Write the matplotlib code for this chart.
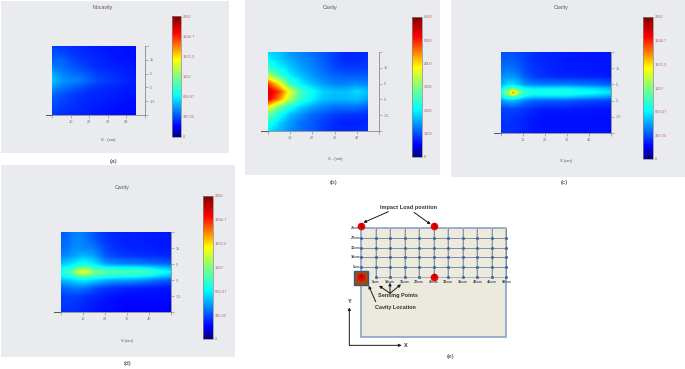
import numpy as np
import matplotlib
matplotlib.use("Agg")
import matplotlib.pyplot as plt
from matplotlib.patches import Rectangle
from matplotlib.colors import LinearSegmentedColormap

W, H = 685, 369
# ---- data: rows run from y=+25 to y=-25
x_coarse = [0, 5, 10, 15, 20, 25, 30, 35, 40, 45]
y_coarse = [25, 20, 15, 10, 5, 0, -5, -10, -15, -20, -25]
x_fine = [0, 3, 5.5, 8, 11, 15, 20, 25, 30, 35, 40, 45, 50]
y_fine = [25, 20, 15, 10, 5, 2.5, 0, -2.5, -5, -10, -15, -20, -25]

values_a = [
    [300, 280, 270, 260, 240, 230, 220, 220, 210, 200],
    [330, 320, 290, 270, 250, 240, 230, 220, 210, 210],
    [370, 380, 330, 290, 270, 250, 240, 220, 220, 210],
    [420, 400, 360, 320, 290, 260, 250, 240, 230, 220],
    [520, 440, 400, 380, 340, 300, 280, 260, 240, 230],
    [580, 480, 450, 430, 370, 320, 300, 280, 250, 240],
    [480, 420, 380, 340, 300, 270, 260, 250, 230, 230],
    [380, 340, 310, 280, 260, 250, 240, 230, 220, 220],
    [340, 320, 290, 260, 250, 240, 230, 220, 210, 210],
    [320, 290, 270, 260, 240, 230, 220, 210, 200, 200],
    [290, 270, 260, 250, 230, 220, 210, 200, 200, 190],
]
values_b = [
    [1800, 1680, 1440, 1320, 1200, 1080, 900, 780, 780, 780],
    [2040, 1800, 1560, 1380, 1260, 1080, 900, 780, 780, 840],
    [2520, 2040, 1740, 1500, 1320, 1140, 960, 900, 900, 900],
    [3400, 2600, 1980, 1680, 1440, 1260, 1140, 1080, 1080, 1080],
    [4900, 3900, 2500, 1980, 1680, 1440, 1320, 1320, 1380, 1320],
    [5520, 4900, 3700, 2520, 2100, 1800, 1680, 1680, 1860, 1680],
    [5300, 4500, 3300, 2400, 1980, 1680, 1620, 1620, 1680, 1500],
    [3900, 2900, 2160, 1740, 1500, 1320, 1200, 1200, 1200, 1080],
    [2760, 2160, 1620, 1380, 1140, 1020, 900, 840, 840, 780],
    [2280, 1800, 1440, 1200, 1080, 900, 780, 720, 720, 780],
    [1920, 1620, 1380, 1200, 1080, 900, 780, 780, 780, 840],
]
values_c = [
    [340, 340, 330, 320, 300, 270, 250, 240, 230, 230, 220, 220, 220],
    [360, 370, 360, 340, 310, 270, 250, 240, 230, 230, 220, 220, 220],
    [400, 410, 400, 370, 320, 280, 260, 240, 230, 230, 230, 220, 220],
    [460, 480, 470, 430, 360, 300, 270, 260, 250, 250, 240, 240, 230],
    [530, 600, 620, 560, 470, 430, 420, 420, 420, 410, 400, 380, 360],
    [640, 800, 880, 780, 680, 640, 640, 650, 650, 630, 610, 580, 540],
    [760, 1100, 1500, 1080, 800, 760, 760, 770, 770, 740, 710, 670, 630],
    [640, 800, 900, 780, 650, 590, 590, 600, 600, 570, 540, 510, 480],
    [470, 530, 550, 500, 420, 380, 370, 370, 360, 340, 330, 320, 310],
    [310, 320, 320, 310, 290, 260, 240, 240, 240, 230, 230, 220, 220],
    [290, 290, 280, 270, 250, 230, 210, 210, 210, 210, 210, 210, 210],
    [270, 270, 270, 260, 240, 220, 210, 210, 210, 210, 210, 210, 210],
    [280, 280, 270, 260, 240, 230, 220, 220, 220, 210, 210, 210, 210],
]
values_d = [
    [350, 370, 420, 440, 400, 340, 280, 250, 240, 240, 230, 230, 220],
    [370, 390, 440, 450, 420, 360, 290, 260, 240, 240, 230, 230, 220],
    [390, 410, 450, 460, 440, 420, 320, 270, 250, 240, 240, 230, 230],
    [440, 460, 490, 520, 540, 500, 360, 310, 290, 280, 270, 260, 250],
    [560, 600, 640, 700, 720, 640, 500, 450, 440, 430, 410, 390, 370],
    [680, 720, 800, 900, 950, 800, 720, 700, 690, 680, 640, 580, 530],
    [760, 820, 950, 1180, 1280, 1000, 920, 880, 870, 860, 830, 740, 660],
    [680, 720, 800, 880, 900, 820, 760, 730, 720, 700, 660, 590, 540],
    [540, 570, 600, 640, 650, 600, 540, 500, 490, 470, 430, 390, 360],
    [370, 390, 410, 420, 400, 340, 290, 270, 250, 240, 230, 220, 220],
    [300, 310, 310, 300, 280, 260, 230, 210, 200, 200, 200, 200, 200],
    [290, 290, 280, 270, 250, 230, 210, 200, 190, 190, 190, 190, 190],
    [270, 270, 270, 260, 240, 220, 200, 190, 180, 180, 180, 180, 180],
]
cbar_ticks_small = [0, 333.33, 666.67, 1000, 1333.3, 1666.7, 2000]
cbar_ticks_large = [0, 1000, 2000, 3000, 4000, 5000, 6000]
x_ticks = [0, 10, 20, 30, 40, 50]
x_tick_labels = ['', '10', '20', '30', '40', '']
y_ticks = [-25, -15, -5, 5, 15, 25]
y_tick_labels = ['', '-15', '-5', '5', '15', '']

# schematic (e), in cm
sens_x = [0, 5, 10, 15, 20, 25, 30, 35, 40, 45, 50]
sens_y = [0, 5, 10, 15, 20, 25]
sens_x_labels = ['5cm', '10cm', '15cm', '20cm', '25cm', '30cm', '35cm', '40cm', '45cm', '50cm']
sens_y_labels = ['5cm', '10cm', '15cm', '20cm', '25cm']
loads = [(0, 0, '1'), (25, 0, '2'), (25, 26, '3'), (0, 26, '4')]

BG = '#EAEBEF'
CMAP = LinearSegmentedColormap.from_list('refjet', [
    (0.0, '#00007F'), (0.09, '#0000FF'), (0.34, '#00FFFF'), (0.5, '#7FFF7F'),
    (0.64, '#FFFF00'), (0.86, '#FF0000'), (1.0, '#7F0000')], N=512)

fig = plt.figure(figsize=(W / 100, H / 100), dpi=100, facecolor='white')
plt.rcParams['font.family'] = 'Liberation Sans'


def px_axes(x0, y0, x1, y1, **kw):
    return fig.add_axes([x0 / W, 1 - y1 / H, (x1 - x0) / W, (y1 - y0) / H], **kw)


for (x0, y0, x1, y1) in [(1, 1, 229, 153), (245, 0, 440, 175), (451, 0, 685, 177), (1, 165, 235, 357)]:
    fig.add_artist(Rectangle((x0 / W, 1 - y1 / H), (x1 - x0) / W, (y1 - y0) / H,
                             transform=fig.transFigure, fc=BG, ec='none', zorder=-5))


def smooth_field(x, y, z):
    """Interpolate the read values in data space so colours pass through the colormap."""
    z = np.array(z, float)[::-1]
    ys = np.array(y, float)[::-1]
    xx = np.linspace(x[0], x[-1], 240)
    yy = np.linspace(-25, 25, 160)
    by_x = np.array([np.interp(xx, x, row) for row in z])
    field = np.array([np.interp(yy, ys, col) for col in by_x.T]).T
    return xx, yy, field


def panel(axbox, cbbox, x, y, z, vmax, cticks, clabels, title, title_xy, xlabel, xlabel_xy, cap, cap_xy):
    ax = px_axes(*axbox)
    ax.patch.set_alpha(0)
    xx, yy, field = smooth_field(x, y, z)
    mesh = ax.pcolormesh(xx, yy, field, shading='nearest', cmap=CMAP, vmin=0, vmax=vmax, rasterized=True)
    ax.set_xlim(0, 50)
    ax.set_ylim(-25, 25)
    for s in ['top', 'left']:
        ax.spines[s].set_visible(False)
    for s in ['right', 'bottom']:
        ax.spines[s].set_color('#8a8a8a')
        ax.spines[s].set_linewidth(0.6)
    ax.plot([-3, 0], [-25, -25], color='#555555', lw=0.7, clip_on=False)
    ax.yaxis.tick_right()
    ax.set_xticks(x_ticks)
    ax.set_xticklabels(x_tick_labels)
    ax.set_yticks(y_ticks)
    ax.set_yticklabels(y_tick_labels)
    ax.tick_params(axis='both', labelsize=2.8, length=2, width=0.4, color='#777777',
                   labelcolor='#777777', pad=1.5)
    cax = px_axes(*cbbox)
    cb = fig.colorbar(mesh, cax=cax)
    cb.set_ticks(cticks)
    cb.set_ticklabels(clabels)
    cb.ax.tick_params(labelsize=2.8, length=0, labelcolor='#B06060', pad=1.5)
    cb.outline.set_edgecolor('#888888')
    cb.outline.set_linewidth(0.5)
    fig.text(title_xy[0] / W, 1 - title_xy[1] / H, title, fontsize=3.8, color='#555555', ha='center', va='center')
    fig.text(xlabel_xy[0] / W, 1 - xlabel_xy[1] / H, xlabel, fontsize=3, color='#555555', ha='center', va='center')
    fig.text(cap_xy[0] / W, 1 - cap_xy[1] / H, cap, fontsize=4.6, color='#333333', ha='center', va='center')


small_labels = ['0', '333.33', '666.67', '1000', '1333.3', '1666.7', '2000']
large_labels = ['0', '1000', '2000', '3000', '4000', '5000', '6000']

panel((52, 46, 145, 115), (172, 16, 181, 137), x_coarse, y_coarse, values_a, 2000,
      cbar_ticks_small, small_labels, 'Nocavity', (103, 8), 'X - (cm)', (108, 140), '(a)', (114, 162))
panel((268, 52, 379, 131), (412, 17, 422, 157), x_coarse, y_coarse, values_b, 6000,
      cbar_ticks_large, large_labels, 'Cavity', (330, 8), 'X - (cm)', (335, 159), '(b)', (333, 183))
panel((501, 52, 611, 133), (643, 17, 653, 159), x_fine, y_fine, values_c, 2000,
      cbar_ticks_small, small_labels, 'Cavity', (561, 8), 'X (cm)', (566, 161), '(c)', (564, 183))
panel((61, 232, 171, 312), (203, 196, 213, 339), x_fine, y_fine, values_d, 2000,
      cbar_ticks_small, small_labels, 'Cavity', (122, 187), 'X (cm)', (127, 341), '(d)', (128, 364))

# ---- panel (e): axes limits chosen so 50 cm = 145 px and 25 cm = 48 px
sch = px_axes(330, 195, 520, 369)
sch.set_xlim(-93 / 43.6 * 5, (570 - 93) / 43.6 * 5)
sch.set_ylim((245 - 522) / 29 * 5, 245 / 29 * 5)
sch.axis('off')
sch.patch.set_alpha(0)
sch.add_patch(Rectangle((0, -31), 50, 56, fc='#ECE9DF', ec='#7F9BC4', lw=1.1))
for xv in sens_x[1:]:
    sch.plot([xv, xv], [0, 25], color='#C4C4BA', lw=1.1, zorder=2)
    sch.plot([xv, xv], [0, 25], color='#5A6A80', lw=0.4, zorder=2.1)
for yv in sens_y[1:-1]:
    sch.plot([0, 50], [yv, yv], color='#5A6A80', lw=0.5, zorder=2.2)
sch.plot([5, 50], [0, 0], color='#9AA4B0', lw=0.6, zorder=2.2)
gx, gy = np.meshgrid(sens_x, sens_y[:-1])
mask = ~((gx == 0) & (gy == 0))
sch.scatter(gx[mask], gy[mask], s=5, color='#3B6BA5', zorder=3, linewidths=0)
for xv, lab in zip(sens_x[1:], sens_x_labels):
    sch.text(xv, -2.6, lab, fontsize=2.7, fontweight='bold', color='#444444', ha='center', va='center', zorder=6)
for yv, lab in zip(sens_y[1:], sens_y_labels):
    sch.text(-0.3, yv, lab, fontsize=2.7, fontweight='bold', color='#444444', ha='right', va='center', zorder=6)
sch.add_patch(Rectangle((-2.4, -4.1), 4.7, 6.9, fc='#9C4A12', ec='#3C5A80', lw=1, zorder=4))
for lx, ly, lab in loads:
    sch.scatter([lx], [ly], s=30, color='#F00000', zorder=5, linewidths=0)
    sch.text(lx, ly, lab, fontsize=3.6, color='#400000', ha='center', va='center', zorder=6)


def cm(zx, zy):
    return ((zx - 93) / 43.6 * 5, (245 - zy) / 29 * 5)


def arrow(frm, to):
    sch.annotate('', xy=cm(*to), xytext=cm(*frm),
                 arrowprops=dict(arrowstyle='-|>', color='#1A1A1A', lw=0.7,
                                 mutation_scale=4, shrinkA=0, shrinkB=0), zorder=7)


txt = dict(fontweight='bold', color='#333333', ha='center', va='center', zorder=7)
sch.text(*cm(237, 38), 'Impact Load position', fontsize=4.1, **txt)
sch.text(*cm(203, 302), 'Sensing Points', fontsize=4.0, **txt)
sch.text(*cm(195, 336), 'Cavity Location', fontsize=4.0, **txt)
sch.text(*cm(58, 320), 'Y', fontsize=4.0, **txt)
sch.text(*cm(228, 451), 'X', fontsize=4.0, **txt)
arrow((175, 50), (100, 83))
arrow((252, 52), (302, 88))
arrow((180, 295), (147, 272))
arrow((180, 295), (180, 263))
arrow((180, 295), (213, 268))
arrow((137, 320), (116, 272))
arrow((58, 451), (58, 337))
arrow((58, 451), (215, 451))
sch.text(*cm(361, 484), '(e)', fontsize=4.6, color='#333333', ha='center', va='center')

fig.savefig('out.png', dpi=100, facecolor='white')
